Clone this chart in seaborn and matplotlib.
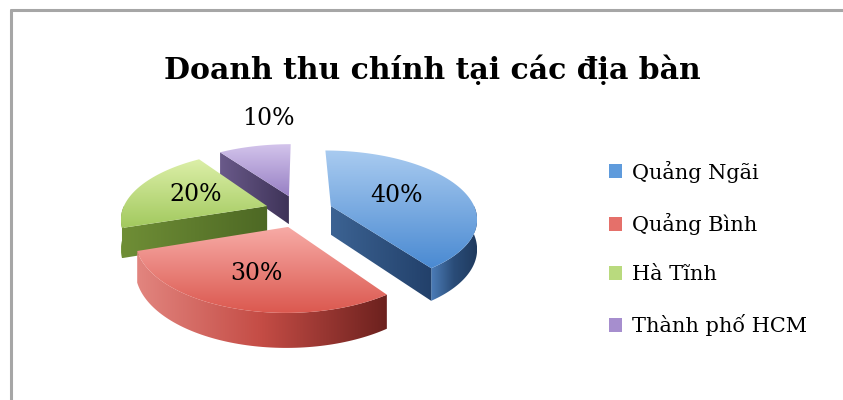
import numpy as np
import matplotlib.pyplot as plt
import seaborn as sns
from matplotlib.patches import Polygon, Patch
from matplotlib.colors import LinearSegmentedColormap
from matplotlib.lines import Line2D

regions = ["Quảng Ngãi", "Quảng Bình", "Hà Tĩnh", "Thành phố HCM"]
shares = [40, 30, 20, 10]
top_colors = [("#A9CBF0", "#4A8AD2"), ("#F7ABA6", "#DB584F"),
              ("#DCEFA8", "#A2C95E"), ("#D4C5EC", "#9780C4")]
band_colors = [("#4C7DB8", "#2A4C78", "#1F3A5E"), ("#E2857F", "#C44C45", "#6C211E"),
               ("#7E9C42", "#5E7C2C", "#4A6422"), ("#7A6A98", "#5C4C7C", "#43375E")]
face_colors = [("#3C6393", "#22406A"), ("#B5433D", "#7A2622"),
               ("#6F8E36", "#4D6824"), ("#6A5A8A", "#3E3358")]
legend_colors = ["#5F9BDC", "#E5706A", "#B9DA7E", "#A68ECE"]

# label placement (radius and extra angle, per slice)
label_r = [0.5, 0.6, 0.55, 1.84]
label_da = [0, 0, 0, 10]

sns.set_theme(style="white")
plt.rcParams["font.family"] = ["DejaVu Serif"]

fig = plt.figure(figsize=(8.43, 4), dpi=100)
ax = fig.add_axes([0, 0, 1, 1])
ax.axis("off")

cx, cy = 299, 211
rx, ry = 145, 69
depth = 29
persp = 0.17
explode = 0.234


def project(u, v, h=0.0):
    s = 1 + persp * v
    return np.column_stack([cx + rx * u * s, cy + ry * v * s + h * depth * s])


def fill_gradient(pts, colors, horizontal=False, z=2):
    poly = Polygon(pts, closed=True, facecolor="none", edgecolor="none", zorder=z)
    ax.add_patch(poly)
    cmap = LinearSegmentedColormap.from_list("g", list(colors))
    g = np.linspace(0, 1, 256)
    img = g[None, :] if horizontal else g[:, None]
    im = ax.imshow(img, cmap=cmap, aspect="auto", origin="upper", interpolation="bilinear",
                   extent=(pts[:, 0].min(), pts[:, 0].max(), pts[:, 1].max(), pts[:, 1].min()),
                   zorder=z)
    im.set_clip_path(poly)


angles = np.concatenate([[0], np.cumsum(shares) / sum(shares) * 360])
order = [3, 2, 0, 1]  # back to front
for rank, i in enumerate(order):
    a, b = angles[i], angles[i + 1]
    m = np.radians((a + b) / 2)
    ou, ov = explode * np.sin(m), -explode * np.cos(m)
    z = 2 + rank * 3

    # outer curved side facing the viewer
    lo, hi = max(a, 90), min(b, 270)
    if hi > lo:
        t = np.radians(np.linspace(lo, hi, 80))
        top = project(ou + np.sin(t), ov - np.cos(t))
        bot = project(ou + np.sin(t), ov - np.cos(t), 1)
        fill_gradient(np.vstack([top, bot[::-1]]), band_colors[i], horizontal=True, z=z)

    # radial faces facing the viewer
    for ang, visible in [(a, np.sin(np.radians(a)) < -1e-6), (b, np.sin(np.radians(b)) > 1e-6)]:
        if visible:
            r = np.radians(ang)
            uu = np.array([ou, ou + np.sin(r)])
            vv = np.array([ov, ov - np.cos(r)])
            quad = np.vstack([project(uu, vv), project(uu, vv, 1)[::-1]])
            fill_gradient(quad, face_colors[i], horizontal=True, z=z + 1)

    # top face
    t = np.radians(np.linspace(a, b, 120))
    top = np.vstack([project(np.array([ou]), np.array([ov])),
                     project(ou + np.sin(t), ov - np.cos(t))])
    fill_gradient(top, top_colors[i], z=z + 2)

    # percentage label
    la = m + np.radians(label_da[i])
    lx, ly = project(np.array([ou + label_r[i] * np.sin(la)]),
                     np.array([ov - label_r[i] * np.cos(la)]))[0]
    ax.text(lx, ly, f"{shares[i]}%", ha="center", va="center", fontsize=17,
            color="black", zorder=20)

ax.set_xlim(0, 843)
ax.set_ylim(400, 0)

handles = [Patch(facecolor=c, edgecolor="none") for c in legend_colors]
leg = ax.legend(handles, regions, loc="upper left", bbox_to_anchor=(0.7, 0.645), frameon=False,
                fontsize=15, handlelength=0.65, handleheight=0.65, handletextpad=0.45,
                labelspacing=1.45)
for txt in leg.get_texts():
    txt.set_color("black")

fig.text(0.513, 1 - 70 / 400, "Doanh thu chính tại các địa bàn", ha="center", va="center",
         fontsize=21.5, fontweight="bold", color="black")

frame = "#A6A6A6"
fig.add_artist(Line2D([11 / 843, 11 / 843], [0, 1 - 10 / 400], color=frame, lw=2.2))
fig.add_artist(Line2D([11 / 843, 1], [1 - 10 / 400, 1 - 10 / 400], color=frame, lw=2.2))

fig.savefig("out.png", dpi=100)
